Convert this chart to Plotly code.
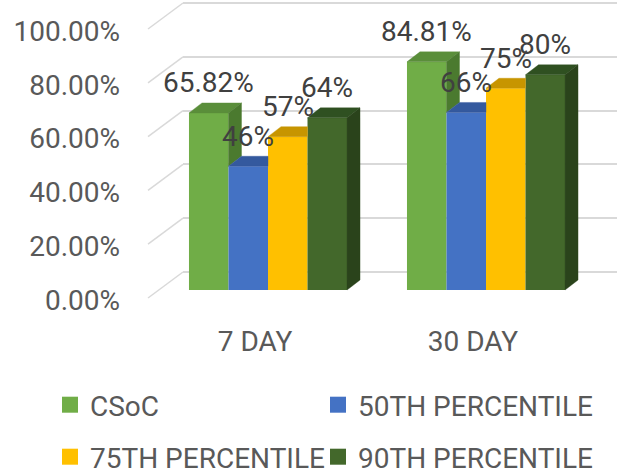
import plotly.graph_objects as go

# ---------------- data ----------------
categories = ["7 DAY", "30 DAY"]
series_names = ["CSoC", "50TH PERCENTILE", "75TH PERCENTILE", "90TH PERCENTILE"]
csoc = [65.82, 84.81]
p50 = [46, 66]
p75 = [57, 75]
p90 = [64, 80]
label_decimals = [2, 0, 0, 0]
y_ticks = [0, 20, 40, 60, 80, 100]
y_tick_labels = ["0.00%", "20.00%", "40.00%", "60.00%", "80.00%", "100.00%"]

series_values = [csoc, p50, p75, p90]
front_colors = ["#70AD47", "#4472C4", "#FFC000", "#43682B"]
top_colors = ["#5A8E3A", "#34599E", "#C79500", "#2F5021"]
side_colors = ["#4B7A2F", "#2F5190", "#B08600", "#2A431B"]

# ---------------- geometry (pixels) ----------------
W, H = 617, 475
PLOT_LEFT_PX = 183          # left edge of back wall
CAT0_PX = 268               # centre of first group
PX_PER_CAT = 218
ZERO_PX = 290               # bar base on screen
PX_PER_PCT = 2.69
Y_RANGE = [-4, 107.5]
BARGAP = 0.275
DEPTH_DX_PX, DEPTH_DY_PX = 13, 10
BACK_OFF_PX = 18            # back wall above bar base
FRONT_OFF_PX = 8            # front edge below bar base
FRONT_X_PX = 148
LEGEND_COL_PX = [50, 318]
LEGEND_ROW_PX = [405, 457]

x_range = [(PLOT_LEFT_PX - CAT0_PX) / PX_PER_CAT, (W - CAT0_PX) / PX_PER_CAT]
y_dom0 = (H - (ZERO_PX - Y_RANGE[0] * PX_PER_PCT)) / H
y_dom1 = (H - (ZERO_PX - Y_RANGE[1] * PX_PER_PCT)) / H


def y_paper(v):
    return y_dom0 + (v - Y_RANGE[0]) / (Y_RANGE[1] - Y_RANGE[0]) * (y_dom1 - y_dom0)


dx = DEPTH_DX_PX / PX_PER_CAT
dy = DEPTH_DY_PX / PX_PER_PCT
back_off = BACK_OFF_PX / PX_PER_PCT
front_off = FRONT_OFF_PX / PX_PER_PCT

FONT = "Roboto, 'Open Sans', sans-serif"
TXT = "#595959"

fig = go.Figure()
xpos = list(range(len(categories)))

# front faces (bars)
for j, (name, vals) in enumerate(zip(series_names, series_values)):
    fig.add_trace(go.Bar(
        x=xpos, y=vals, name=name, legendgroup=name, showlegend=False,
        marker=dict(color=front_colors[j], line=dict(width=0)),
        hovertemplate="%{y}<extra>" + name + "</extra>",
    ))

# top and side faces (visible parts only)
nser = len(series_values)
wbar = (1 - BARGAP) / nser
annotations = []
for i in xpos:
    for j in range(nser):
        v = series_values[j][i]
        l = i - (1 - BARGAP) / 2 + j * wbar
        r = l + wbar
        nxt = series_values[j + 1][i] if j + 1 < nser else None
        # top face
        if nxt is None or nxt <= v:
            pts = [(l, v), (r, v), (r + dx, v + dy), (l + dx, v + dy)]
        elif nxt >= v + dy:
            pts = [(l, v), (r, v), (r, v + dy), (l + dx, v + dy)]
        else:
            pts = [(l, v), (r, v), (r, nxt), (r + (nxt - v) * dx / dy, nxt),
                   (r + dx, v + dy), (l + dx, v + dy)]
        pts.append(pts[0])
        fig.add_trace(go.Scatter(x=[p[0] for p in pts], y=[p[1] for p in pts],
                                 mode="lines", fill="toself",
                                 fillcolor=top_colors[j], legendgroup=series_names[j],
                                 line=dict(color=top_colors[j], width=0.4),
                                 showlegend=False, hoverinfo="skip"))
        # side face
        if nxt is None or nxt < v:
            base = 0 if nxt is None else nxt
            sx = [r, r, r + dx, r + dx, r]
            sy = [base, v, v + dy, base + dy, base]
            fig.add_trace(go.Scatter(x=sx, y=sy, mode="lines", fill="toself",
                                     fillcolor=side_colors[j], legendgroup=series_names[j],
                                     line=dict(color=side_colors[j], width=0.4),
                                     showlegend=False, hoverinfo="skip"))
        # data label
        annotations.append(dict(
            x=(l + r) / 2, y=v, xref="x", yref="y",
            text=f"{v:.{label_decimals[j]}f}%", showarrow=False,
            yshift=30, font=dict(family=FONT, size=28, color="#404040"),
        ))

# legend entries (square swatches), one legend per cell of a 2x2 grid
legend_ids = ["legend", "legend2", "legend3", "legend4"]
for j, name in enumerate(series_names):
    fig.add_trace(go.Scatter(
        x=[None], y=[None], mode="markers", name=name, legendgroup=name,
        marker=dict(symbol="square", size=18, color=front_colors[j], line=dict(width=0)),
        legend=legend_ids[j], showlegend=True, hoverinfo="skip",
    ))

# side wall diagonals
shapes = []
for t in y_ticks:
    shapes.append(dict(
        type="line", xref="paper", yref="paper", layer="below",
        x0=FRONT_X_PX / W, y0=y_paper(t - front_off),
        x1=PLOT_LEFT_PX / W, y1=y_paper(t + back_off),
        line=dict(color="#D9D9D9", width=1.5),
    ))

legends = {}
for j, lid in enumerate(legend_ids):
    legends[lid] = dict(
        orientation="h", xanchor="left", yanchor="middle",
        x=LEGEND_COL_PX[j % 2] / W, y=(H - LEGEND_ROW_PX[j // 2]) / H,
        bgcolor="rgba(0,0,0,0)", borderwidth=0, itemsizing="trace",
        font=dict(family=FONT, size=28, color=TXT),
    )

fig.update_layout(
    template="none",
    width=W, height=H, autosize=False,
    margin=dict(l=0, r=0, t=0, b=0, pad=0, autoexpand=False),
    paper_bgcolor="white", plot_bgcolor="white",
    barmode="group", bargap=BARGAP, bargroupgap=0,
    font=dict(family=FONT, color=TXT, size=28),
    xaxis=dict(domain=[PLOT_LEFT_PX / W, 1], range=x_range, automargin=False,
               tickvals=xpos, ticktext=categories,
               showgrid=False, zeroline=False, showline=False, ticks="",
               ticklabelshift=-13, ticklabelstandoff=21,
               tickfont=dict(family=FONT, size=28, color=TXT)),
    yaxis=dict(domain=[y_dom0, y_dom1], range=Y_RANGE, automargin=False,
               tickvals=[t + back_off for t in y_ticks], ticktext=y_tick_labels,
               showgrid=True, gridcolor="#D9D9D9", gridwidth=1.5,
               zeroline=False, showline=False, ticks="",
               ticklabelshift=28, ticklabelstandoff=62,
               tickfont=dict(family=FONT, size=28, color=TXT)),
    shapes=shapes,
    annotations=annotations,
    showlegend=True,
    **legends,
)

fig.write_html("out.html")
